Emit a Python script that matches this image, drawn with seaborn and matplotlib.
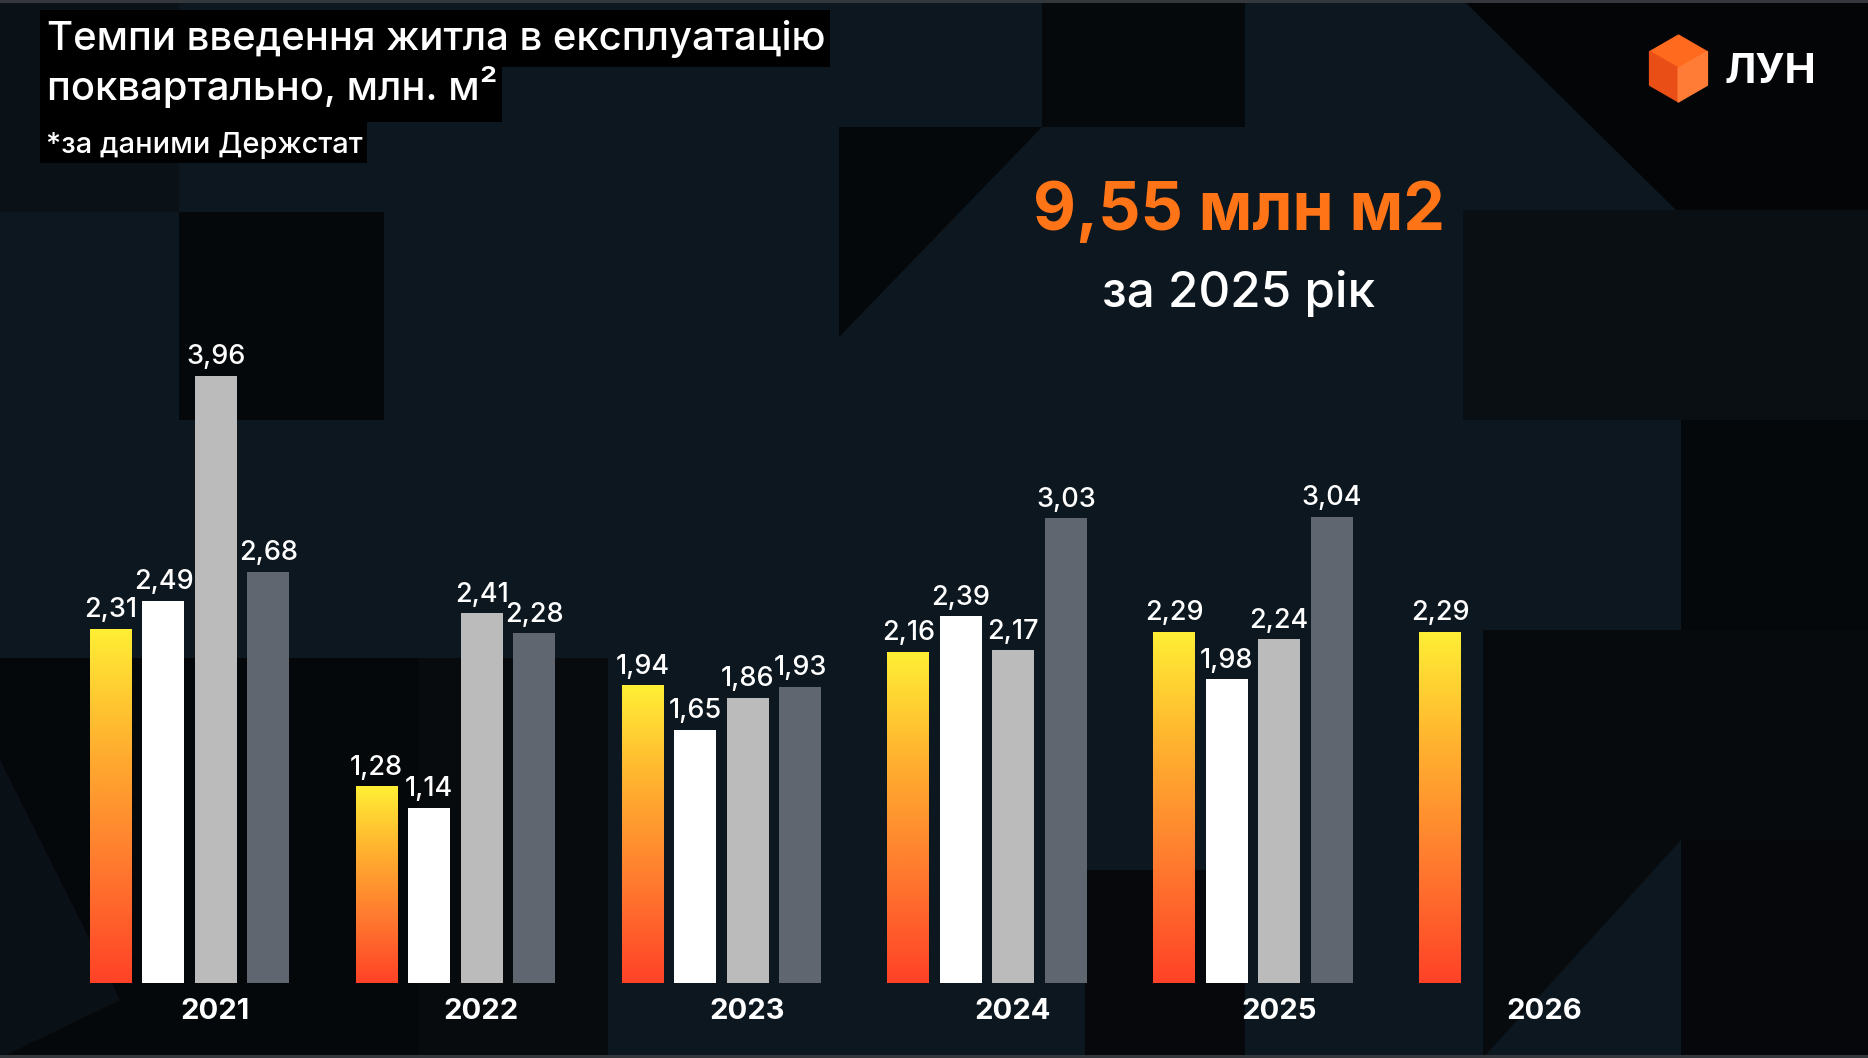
import numpy as np
import pandas as pd
import matplotlib
matplotlib.use("Agg")
import matplotlib.pyplot as plt
import seaborn as sns
from matplotlib.patches import Polygon, Rectangle
from matplotlib.colors import LinearSegmentedColormap

# ---------------- data ----------------
years = ["2021", "2022", "2023", "2024", "2025", "2026"]
quarters = ["Q1", "Q2", "Q3", "Q4"]
q1 = [2.31, 1.28, 1.94, 2.16, 2.29, 2.29]
q2 = [2.49, 1.14, 1.65, 2.39, 1.98]
q3 = [3.96, 2.41, 1.86, 2.17, 2.24]
q4 = [2.68, 2.28, 1.93, 3.03, 3.04]
series = [q1, q2, q3, q4]

title_1 = "Темпи введення житла в експлуатацію"
title_2 = "поквартально, млн. м²"
subtitle = "*за даними Держстат"
big_number = "9,55 млн м2"
big_caption = "за 2025 рік"
logo_text = "ЛУН"

rows = []
for q, vals in zip(quarters, series):
    for y, v in zip(years, vals):
        rows.append({"year": y, "quarter": q, "value": v})
df = pd.DataFrame(rows)

# ---------------- style ----------------
W, H, DPI = 1868, 1058, 100
BG = "#0d171f"
sns.set_theme(style="dark")
plt.rcParams["font.family"] = ["Inter", "DejaVu Sans"]

fig = plt.figure(figsize=(W / DPI, H / DPI), dpi=DPI, facecolor=BG)

# background decoration axes (pixel coords, y down)
bg = fig.add_axes([0, 0, 1, 1], zorder=0)
bg.set_xlim(0, W)
bg.set_ylim(H, 0)
bg.set_facecolor(BG)
bg.set_axis_off()

def poly(pts, color):
    bg.add_patch(Polygon(pts, closed=True, facecolor=color, edgecolor="none"))

poly([(0, 0), (179, 0), (179, 212), (0, 212)], "#0a1217")
poly([(179, 212), (384, 212), (384, 420), (179, 420)], "#05080b")
poly([(1042, 0), (1245, 0), (1245, 127), (1042, 127)], "#06090c")
poly([(839, 127), (1042, 127), (839, 337)], "#05080a")
poly([(1463, 0), (1868, 0), (1868, 210), (1676, 210)], "#030507")
poly([(1463, 210), (1868, 210), (1868, 420), (1463, 420)], "#0a0f13")
poly([(1681, 420), (1868, 420), (1868, 630), (1681, 630)], "#05080a")
poly([(1483, 630), (1868, 630), (1868, 840), (1483, 840)], "#070a0d")
poly([(1681, 840), (1868, 840), (1868, 1058), (1681, 1058)], "#05070a")
poly([(1483, 840), (1681, 840), (1483, 1058)], "#080b0e")
poly([(0, 658), (419, 658), (419, 1058), (0, 1058)], "#05080a")
poly([(0, 760), (120, 1000), (0, 1058)], "#0a1116")
poly([(419, 658), (608, 658), (608, 1058), (419, 1058)], "#080b0e")
poly([(1085, 870), (1245, 870), (1245, 1058), (1085, 1058)], "#06080b")
# top / bottom frame strips
poly([(0, 0), (W, 0), (W, 3), (0, 3)], "#34383c")
poly([(0, H - 3), (W, H - 3), (W, H), (0, H)], "#34383c")

# ---------------- bars ----------------
ax = fig.add_axes([0, 0, 1, 1], zorder=1)
ax.patch.set_alpha(0)
colors = ["#ff9a2e", "#ffffff", "#bbbbbb", "#5f6670"]
sns.barplot(data=df, x="year", y="value", hue="quarter", order=years,
            hue_order=quarters, palette=colors, width=0.79, gap=0.2,
            saturation=1, legend=False, errorbar=None, linewidth=0,
            edgecolor="none", ax=ax)

cmap = LinearSegmentedColormap.from_list(
    "grad", ["#ff4227", "#ff7a2f", "#ffb02f", "#ffef35"])
grad = np.linspace(0, 1, 256).reshape(-1, 1)
for p in ax.containers[0]:
    x0, w, h = p.get_x(), p.get_width(), p.get_height()
    im = ax.imshow(grad, extent=[x0, x0 + w, 0, h], origin="lower",
                   aspect="auto", cmap=cmap, zorder=p.get_zorder())
    im.set_clip_path(p)
    p.set_facecolor("none")

for c in ax.containers:
    ax.bar_label(c, fmt=lambda v: f"{v:.2f}".replace(".", ","), padding=4,
                 color="white", fontsize=19.5, fontweight="medium")

for i, y in enumerate(years):
    ax.text(i + 0.097, -0.188, y, ha="center", va="center", fontsize=21,
            fontweight="bold", color="white")

ax.set_xlim(-0.7137, 6.314)
ax.set_ylim(-0.4912, 6.4106)
ax.set_axis_off()

# ---------------- texts ----------------
renderer = fig.canvas.get_renderer()

def fit(x, y, s, tw, ha="left", **kw):
    t = fig.text(x / W, 1 - y / H, s, ha=ha, va="baseline", fontsize=20, **kw)
    w = t.get_window_extent(renderer).width
    t.set_fontsize(20 * tw / w)
    return t

t1 = fit(47, 50, title_1, 778, color="white", fontweight="medium", zorder=5)
t2 = fig.text(47 / W, 1 - 100 / H, title_2, ha="left", va="baseline",
              fontsize=t1.get_fontsize(), color="white", fontweight="medium", zorder=5)
t3 = fit(46, 153, subtitle, 316, color="white", fontweight="medium", zorder=5)

for t, (ytop, ybot) in zip([t1, t2, t3], [(10, 67), (67, 122), (122, 163)]):
    ext = t.get_window_extent(renderer)
    bg.add_patch(Rectangle((40, ytop), ext.x1 + 4 - 40, ybot - ytop,
                           facecolor="black", edgecolor="none", zorder=4))

fit(1239, 230, big_number, 412, ha="center", color="#ff7417", fontweight="bold")
fit(1239, 307, big_caption, 273, ha="center", color="white", fontweight="medium")
fit(1725, 83, logo_text, 92, color="white", fontweight="bold")

# logo cube
cx, cy, a = 1678.5, 68.5, 33
top = (cx, cy - a); ul = (cx - 0.866 * a, cy - 0.5 * a); ur = (cx + 0.866 * a, cy - 0.5 * a)
cc = (cx, cy); ll = (cx - 0.866 * a, cy + 0.5 * a); lr = (cx + 0.866 * a, cy + 0.5 * a)
bot = (cx, cy + a)
for pts, col in [([top, ur, cc, ul], "#ff6a1f"), ([ul, cc, bot, ll], "#e84e16"),
                 ([ur, lr, bot, cc], "#ff7c36")]:
    bg.add_patch(Polygon(pts, closed=True, facecolor=col, edgecolor=col,
                         linewidth=1.5, joinstyle="round", zorder=5))

fig.savefig("out.png", dpi=DPI, facecolor=BG)
